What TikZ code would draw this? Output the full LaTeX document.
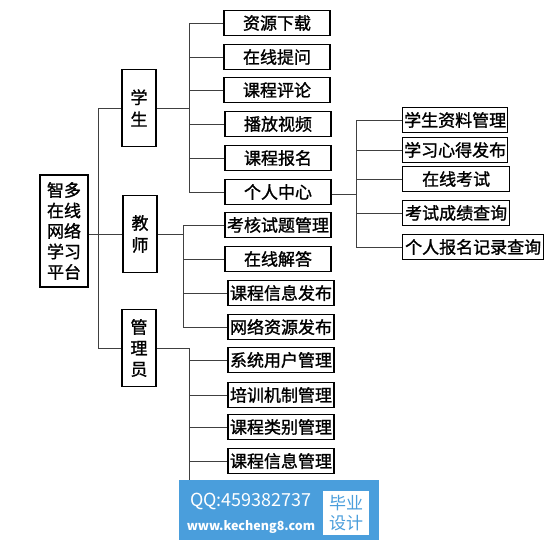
\documentclass[tikz,border=0pt]{standalone}
\usepackage{fontspec}
\setmainfont{Noto Sans CJK SC}
\newfontfamily\cjk[FakeBold=1.3]{Noto Sans CJK SC}
\newfontfamily\cjkplain{Noto Sans CJK SC}
\usetikzlibrary{positioning}
\definecolor{markblue}{HTML}{4A9EDC}
\tikzstyle{every node}=[font=\fontsize{17}{20.5}\selectfont\cjk, inner sep=0pt]
\tikzstyle{leaf}=[draw, line width=1.3pt, minimum width=106pt, minimum height=25pt]
\tikzstyle{role}=[draw, line width=1.3pt, minimum width=34pt, minimum height=77pt, align=center]
\tikzstyle{wire}=[line width=0.9pt, draw=black!75]

\begin{document}
\begin{tikzpicture}[x=1pt, y=-1pt]
  \useasboundingbox (0,0) rectangle (558,546);
  % root and the three roles
  \node[draw, line width=1.3pt, minimum width=48pt, minimum height=112pt, align=center] (root) at (64,231) {智多\\在线\\网络\\学习\\平台};
  \node[role, font=\fontsize{17}{22}\selectfont\cjk] (stu) at (139,108) {学\\生};
  \node[role, font=\fontsize{17}{22}\selectfont\cjk] (tea) at (140,234) {教\\师};
  \node[role, font=\fontsize{17}{21}\selectfont\cjk] (adm) at (139,348) {管\\理\\员};
  % student items
  \node[leaf] (s1) at (277,23) {资源下载};
  \node[leaf] (s2) at (277,57) {在线提问};
  \node[leaf] (s3) at (277,90) {课程评论};
  \node[leaf] (s4) at (278,124) {播放视频};
  \node[leaf] (s5) at (278,158) {课程报名};
  \node[leaf] (s6) at (278,192) {个人中心};
  % personal centre items
  \node[leaf, minimum width=105pt, anchor=west] (p1) at (402,120) {学生资料管理};
  \node[leaf, minimum width=105pt, anchor=west] (p2) at (402,150) {学习心得发布};
  \node[leaf, minimum width=107pt, anchor=west] (p3) at (402,179) {在线考试};
  \node[leaf, minimum width=107pt, anchor=west] (p4) at (402,213) {考试成绩查询};
  \node[leaf, minimum width=141pt, anchor=west] (p5) at (402,247) {个人报名记录查询};
  % teacher items
  \node[leaf] (t1) at (278,225) {考核试题管理};
  \node[leaf] (t2) at (278,259) {在线解答};
  \node[leaf] (t3) at (281,293) {课程信息发布};
  \node[leaf] (t4) at (281,327) {网络资源发布};
  % admin items
  \node[leaf] (a1) at (281,360) {系统用户管理};
  \node[leaf] (a2) at (281,395) {培训机制管理};
  \node[leaf] (a3) at (281,427) {课程类别管理};
  \node[leaf] (a4) at (281,461) {课程信息管理};
  % buses
  \coordinate (rb) at (98,234);
  \coordinate (sb) at (189,108);
  \coordinate (pb) at (356,194);
  \coordinate (tb) at (183,234);
  \coordinate (ab) at (189,348);
  \draw[wire] (root.east |- rb) -- (tea.west |- rb);
  \draw[wire] (rb |- stu) -- (rb |- adm);
  \draw[wire] (rb |- stu) -- (stu.west);
  \draw[wire] (rb |- adm) -- (adm.west);
  \draw[wire] (stu.east) -- (sb);
  \draw[wire] (sb |- s1) -- (sb |- s6);
  \foreach \n in {s1,s2,s3,s4,s5,s6}
    \draw[wire] (sb |- \n.west) -- (\n.west);
  \draw[wire] (s6.east |- pb) -- (pb);
  \draw[wire] (pb |- p1) -- (pb |- p5);
  \foreach \n in {p1,p2,p3,p4,p5}
    \draw[wire] (pb |- \n.west) -- (\n.west);
  \draw[wire] (tea.east |- tb) -- (tb);
  \draw[wire] (tb |- t1) -- (tb |- t4);
  \foreach \n in {t1,t2,t3,t4}
    \draw[wire] (tb |- \n.west) -- (\n.west);
  \draw[wire] (adm.east) -- (ab);
  \coordinate (abend) at (189,490);
  \draw[wire] (ab) -- (abend);
  \foreach \n in {a1,a2,a3,a4}
    \draw[wire] (ab |- \n.west) -- (\n.west);
  % watermark
  \node[fill=markblue, minimum width=200pt, minimum height=60pt] (mark) at (279,510) {};
  \node[text=white, font=\fontsize{18}{18}\selectfont\cjkplain] (qq) at (251,501) {QQ:459382737};
  \node[text=white, font=\fontsize{12.5}{12.5}\selectfont\cjkplain\bfseries] (web) at (251,527) {www.kecheng8.com};
  \node[fill=white, text=markblue, minimum width=46pt, minimum height=44pt, align=center,
        font=\fontsize{17}{20}\selectfont\cjkplain] (bysj) at (346,513) {毕业\\设计};
\end{tikzpicture}
\end{document}
